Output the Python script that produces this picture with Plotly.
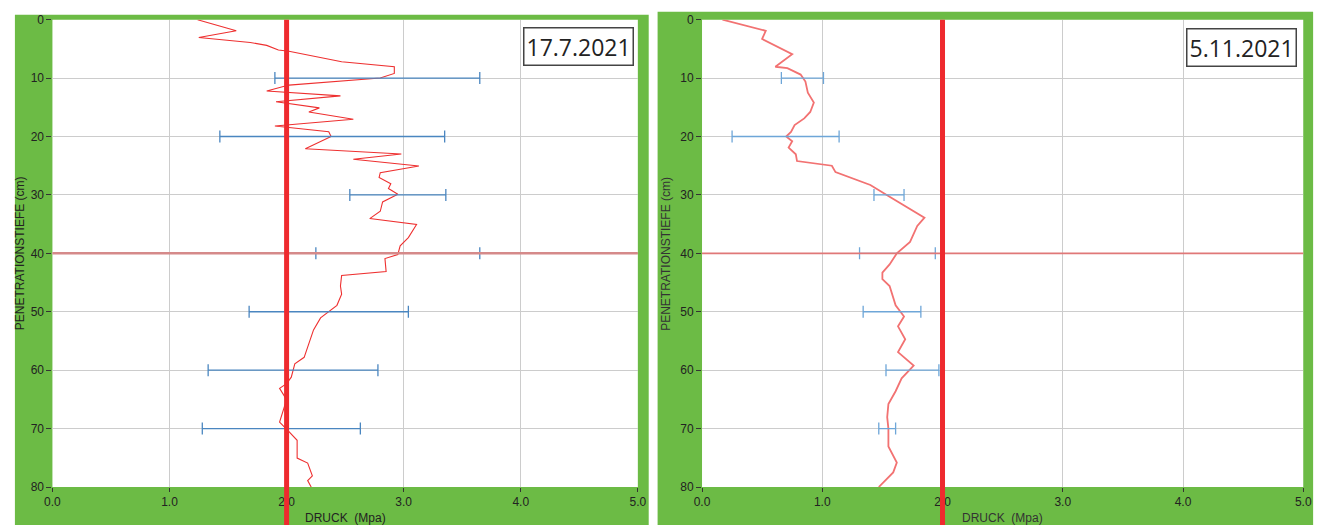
import plotly.graph_objects as go

W, H = 1331, 532

# ---------------- data ----------------
# Panel 1: 17.7.2021
depth_1 = [0, 1.9, 3.06, 3.9, 4.4, 5.2, 5.4, 7.2, 8.06, 9.2, 10.0, 11.2, 12.2, 13.05, 14.05,
           15.1, 15.8, 17.05, 18.2, 19.2, 20.0, 22.1, 23.0, 23.9, 25.05, 26.2, 27.0, 28.1,
           28.9, 29.9, 31.2, 32.8, 34.05, 35.05, 37.3, 38.7, 40.2, 40.9, 43.1, 43.8, 45.6,
           47.0, 48.9, 49.9, 51.05, 53.1, 55.9, 57.8, 58.9, 61.2, 62.3, 63.1, 65.05, 67.0,
           68.9, 70.3, 72.0, 75.05, 75.9, 78.1, 78.9, 80.0]
druck_1 = [1.24, 1.57, 1.25, 1.69, 1.83, 1.93, 2.02, 2.47, 2.92, 2.92, 2.80, 2.02, 1.83, 2.46,
           1.91, 2.28, 2.19, 2.57, 1.90, 2.36, 2.38, 2.16, 2.98, 2.57, 3.13, 2.80, 2.79, 2.89,
           2.87, 2.95, 2.82, 2.80, 2.71, 3.11, 3.04, 2.97, 2.95, 2.84, 2.85, 2.47, 2.46,
           2.47, 2.43, 2.36, 2.29, 2.23, 2.18, 2.15, 2.07, 2.04, 2.00, 1.94, 2.00, 1.97,
           1.94, 2.01, 2.09, 2.09, 2.18, 2.22, 2.18, 2.21]
err_depth_1 = [10, 20, 30, 40, 50, 60, 70]
err_low_1 = [1.90, 1.43, 2.54, 2.25, 1.68, 1.33, 1.28]
err_high_1 = [3.65, 3.35, 3.36, 3.65, 3.04, 2.78, 2.63]

# Panel 2: 5.11.2021
depth_2 = [0, 1.9, 3.3, 4.7, 5.9, 8.06, 8.3, 9.4, 10.6, 12.5, 14.2, 15.8, 16.9, 18.05, 19.2,
           20.0, 20.8, 21.9, 23.05, 24.2, 25.0, 26.1, 28.3, 30.3, 33.9, 35.3, 38.05, 40.0,
           41.9, 43.3, 44.4, 45.6, 47.5, 48.9, 50.8, 52.5, 54.7, 56.9, 59.2, 61.4, 63.6,
           65.8, 68.05, 70.0, 73.05, 75.8, 77.5, 80.0]
druck_2 = [0.17, 0.53, 0.50, 0.63, 0.75, 0.61, 0.71, 0.82, 0.86, 0.88, 0.93, 0.90, 0.85, 0.77,
           0.74, 0.70, 0.75, 0.72, 0.78, 0.79, 1.08, 1.11, 1.40, 1.56, 1.85, 1.79, 1.73, 1.62,
           1.56, 1.50, 1.50, 1.56, 1.59, 1.61, 1.68, 1.63, 1.69, 1.63, 1.76, 1.66, 1.61,
           1.55, 1.54, 1.55, 1.55, 1.62, 1.59, 1.47]
err_depth_2 = [10, 20, 30, 40, 50, 60, 70]
err_low_2 = [0.66, 0.25, 1.43, 1.31, 1.34, 1.53, 1.47]
err_high_2 = [1.01, 1.14, 1.68, 1.94, 1.82, 1.97, 1.61]

x_ticks = [0, 1, 2, 3, 4, 5]
x_ticklabels = ["0.0", "1.0", "2.0", "3.0", "4.0", "5.0"]
y_ticks = [0, 10, 20, 30, 40, 50, 60, 70, 80]
dates = ["17.7.2021", "5.11.2021"]
limit_value = 2.0
marker_depth = 40
x_title = "DRUCK\u00a0 (Mpa)"
y_title = "PENETRATIONSTIEFE (cm)"

GREEN = "#6cbb45"

def px_x(p):
    return p / W

def px_y(p):
    return 1 - p / H

# pixel geometry of panels
panels = [
    dict(green=(7, 8, 649, 532), plot=(45, 13, 638, 493), date_c=(577.5, 41), ytitle_x=12,
         line_color="#ee3030", line_w=1.1, hline_color="#d58a8a", hline_w=2.5,
         err_color="#4a86c0", text_color="#222222"),
    dict(green=(658, 5, 1322, 532), plot=(703, 13, 1312, 493), date_c=(1249.5, 41.5), ytitle_x=667,
         line_color="#f27272", line_w=1.8, hline_color="#e07878", hline_w=1.8,
         err_color="#6ea6d8", text_color="#333333"),
]

data_sets = [
    (depth_1, druck_1, err_depth_1, err_low_1, err_high_1),
    (depth_2, druck_2, err_depth_2, err_low_2, err_high_2),
]

fig = go.Figure()
shapes = []
annotations = []

for i, (pn, ds) in enumerate(zip(panels, data_sets)):
    dep, dr, edep, elo, ehi = ds
    xa = "x" if i == 0 else "x2"
    ya = "y" if i == 0 else "y2"
    gx0, gy0, gx1, gy1 = pn["green"]
    px0, py0, px1, py1 = pn["plot"]

    shapes.append(dict(type="rect", xref="paper", yref="paper", layer="below",
                       x0=px_x(gx0), x1=px_x(gx1), y0=px_y(gy1), y1=px_y(gy0),
                       fillcolor=GREEN, line=dict(width=0)))
    shapes.append(dict(type="rect", xref="paper", yref="paper", layer="below",
                       x0=px_x(px0), x1=px_x(px1), y0=px_y(py1), y1=px_y(py0),
                       fillcolor="white", line=dict(width=0)))

    fig.add_trace(go.Scatter(x=dr, y=dep, mode="lines", xaxis=xa, yaxis=ya,
                             line=dict(color=pn["line_color"], width=pn["line_w"]),
                             showlegend=False, hoverinfo="skip"))
    centers = [(a + b) / 2 for a, b in zip(elo, ehi)]
    halves = [(b - a) / 2 for a, b in zip(elo, ehi)]
    fig.add_trace(go.Scatter(x=centers, y=edep, mode="markers", xaxis=xa, yaxis=ya,
                             marker=dict(size=1, opacity=0),
                             error_x=dict(type="data", array=halves, symmetric=True,
                                          color=pn["err_color"], thickness=1.3, width=6),
                             showlegend=False, hoverinfo="skip"))

    shapes.append(dict(type="line", xref=f"{xa} domain", yref=ya, x0=0, x1=1,
                       y0=marker_depth, y1=marker_depth, layer="above",
                       line=dict(color=pn["hline_color"], width=pn["hline_w"])))
    shapes.append(dict(type="line", xref=xa, yref="paper", x0=limit_value, x1=limit_value,
                       y0=0, y1=px_y(py0), layer="above",
                       line=dict(color="#ee2a2e", width=5)))

    annotations.append(dict(text=dates[i], xref="paper", yref="paper",
                            x=px_x(pn["date_c"][0]), y=px_y(pn["date_c"][1]),
                            xanchor="center", yanchor="middle", showarrow=False,
                            font=dict(family="Open Sans", size=23, color="#222222"),
                            bgcolor="white", bordercolor="#444444", borderwidth=1.5,
                            borderpad=2))
    annotations.append(dict(text=y_title, xref="paper", yref="paper",
                            x=px_x(pn["ytitle_x"]), y=px_y((py0 + py1) / 2),
                            xanchor="center", yanchor="middle", textangle=-90, showarrow=False,
                            font=dict(family="Liberation Sans, Arial", size=12, color=pn["text_color"])))
    annotations.append(dict(text=x_title, xref="paper", yref="paper",
                            x=px_x((px0 + px1) / 2), y=px_y(525),
                            xanchor="center", yanchor="middle", showarrow=False,
                            font=dict(family="Liberation Sans, Arial", size=12, color=pn["text_color"])))

axis_common = dict(showline=False, zeroline=False, showgrid=True, gridcolor="#cccccc",
                   gridwidth=1, ticks="outside", tickcolor="#333333",
                   tickfont=dict(family="Liberation Sans, Arial", size=12, color="#222222"))

ydom = [px_y(493), px_y(13)]
fig.update_layout(
    width=W, height=H,
    margin=dict(l=0, r=0, t=0, b=0),
    paper_bgcolor="white", plot_bgcolor="white",
    xaxis=dict(domain=[px_x(45), px_x(638)], range=[0, 5], tickvals=x_ticks,
               ticktext=x_ticklabels, anchor="y", ticklen=4, **axis_common),
    yaxis=dict(domain=ydom, range=[80, 0], tickvals=y_ticks, anchor="x", ticklen=5, **axis_common),
    xaxis2=dict(domain=[px_x(703), px_x(1312)], range=[0, 5], tickvals=x_ticks,
                ticktext=x_ticklabels, anchor="y2", ticklen=4, **axis_common),
    yaxis2=dict(domain=ydom, range=[80, 0], tickvals=y_ticks, anchor="x2", ticklen=5, **axis_common),
    shapes=shapes,
    annotations=annotations,
    showlegend=False,
)

fig.write_html("out.html",
               config={"displayModeBar": False},
               post_script="document.body.style.margin='0px';document.body.style.overflow='hidden';")
